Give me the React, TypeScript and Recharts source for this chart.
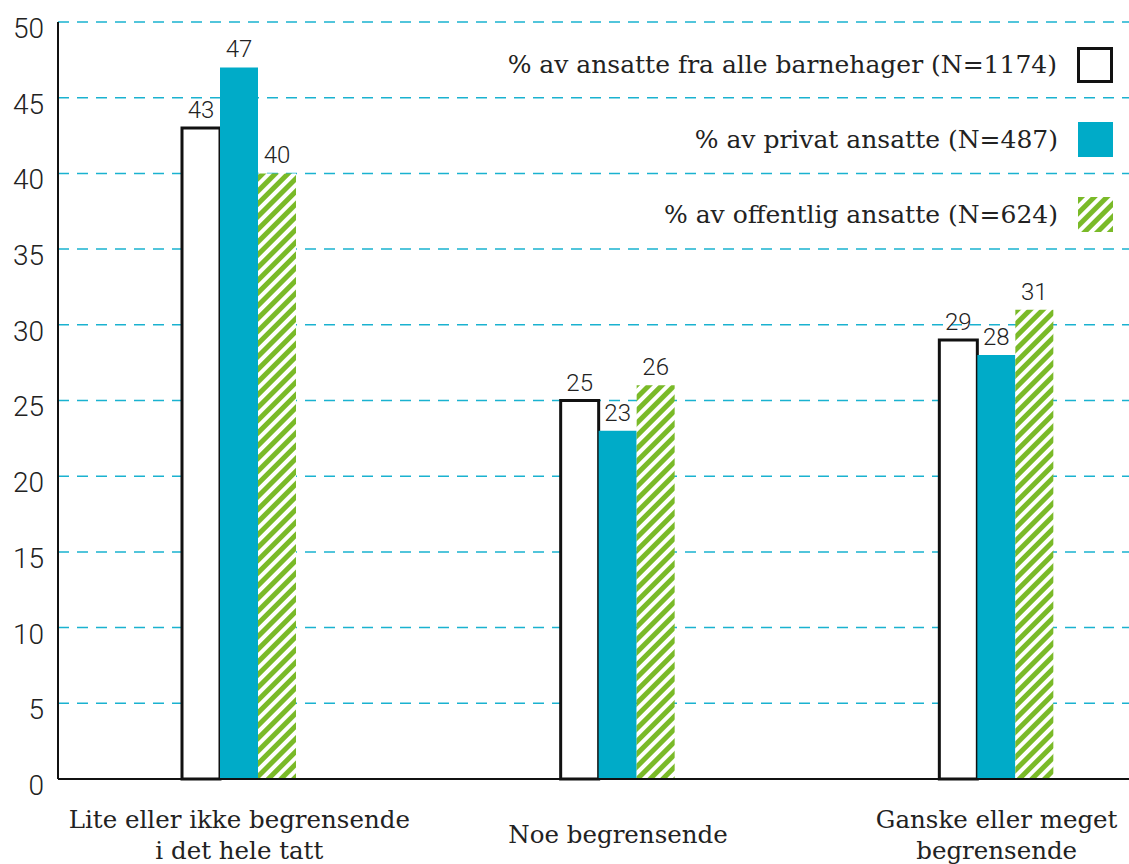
import { BarChart, Bar, XAxis, YAxis, CartesianGrid, LabelList } from 'recharts';

const categories = [
  'Lite eller ikke begrensende i det hele tatt',
  'Noe begrensende',
  'Ganske eller meget begrensende',
];
const categoryLines = [
  ['Lite eller ikke begrensende', 'i det hele tatt'],
  ['Noe begrensende'],
  ['Ganske eller meget', 'begrensende'],
];
const alleValues = [43, 25, 29];
const privatValues = [47, 23, 28];
const offentligValues = [40, 26, 31];
const seriesNames = [
  '% av ansatte fra alle barnehager (N=1174)',
  '% av privat ansatte (N=487)',
  '% av offentlig ansatte (N=624)',
];
const yTicks = [0, 5, 10, 15, 20, 25, 30, 35, 40, 45, 50];

const BLUE = '#00abc8';
const GREEN = '#7aba28';
const GRID = '#1ab2d0';
const SANS = 'Roboto, "DejaVu Sans", sans-serif';
const SERIF = '"DejaVu Serif", "Liberation Serif", serif';

const data = categories.map((category, i) => ({
  category,
  alle: alleValues[i],
  privat: privatValues[i],
  offentlig: offentligValues[i],
}));

function CategoryTick(props: any) {
  const { x, y, payload } = props;
  const idx = categories.indexOf(payload.value);
  const lines = categoryLines[idx] ?? [payload.value];
  const lineHeight = 31;
  const centerY = y + 48;
  return (
    <text x={x} textAnchor='middle' fontFamily={SERIF} fontSize={24.5} fill='#222'>
      {lines.map((line, i) => (
        <tspan key={i} x={x} y={centerY + (i - (lines.length - 1) / 2) * lineHeight + 8}>
          {line}
        </tspan>
      ))}
    </text>
  );
}

function Stripes({ id }: { id: string }) {
  return (
    <pattern id={id} patternUnits='userSpaceOnUse' width={9} height={9} patternTransform='rotate(45)'>
      <rect x={0} y={0} width={9} height={9} fill='#fff' />
      <rect x={0} y={0} width={5} height={9} fill={GREEN} />
    </pattern>
  );
}

function LegendSwatch({ index }: { index: number }) {
  if (index === 0) {
    return <div style={{ width: 30, height: 30, border: '3px solid #111', background: '#fff' }} />;
  }
  if (index === 1) {
    return <div style={{ width: 35, height: 35, background: BLUE }} />;
  }
  return (
    <svg width={35} height={35}>
      <defs>
        <Stripes id='legendStripes' />
      </defs>
      <rect width={35} height={35} fill='url(#legendStripes)' />
    </svg>
  );
}

const labelStyle = { fontFamily: SANS, fontWeight: 300, fontSize: 24, fill: '#222' };

export default function App() {
  return (
    <div style={{ position: 'relative', width: 1129, height: 864, overflow: 'hidden', background: '#fff' }}>
      <style>{'body{margin:0}'}</style>
      <BarChart
        width={1186}
        height={864}
        data={data}
        margin={{ top: 22, right: 0, bottom: 0, left: 0 }}
        barGap={0}
        barSize={38}
      >
        <defs>
          <Stripes id='barStripes' />
        </defs>
        <CartesianGrid vertical={false} stroke={GRID} strokeWidth={1.5} strokeDasharray='11 8' />
        <XAxis
          dataKey='category'
          height={85}
          tickLine={false}
          axisLine={{ stroke: '#111', strokeWidth: 2 }}
          tick={<CategoryTick />}
          interval={0}
          padding={{ left: -8, right: 0 }}
        />
        <YAxis
          width={58}
          domain={[0, 50]}
          ticks={yTicks}
          tickLine={false}
          tickMargin={8}
          axisLine={{ stroke: '#111', strokeWidth: 2 }}
          tick={{ fontFamily: SANS, fontWeight: 300, fontSize: 28, fill: '#222', dy: 6 }}
        />
        <Bar dataKey='alle' fill='#fff' stroke='#111' strokeWidth={3} isAnimationActive={false}>
          <LabelList dataKey='alle' position='top' offset={10} style={labelStyle} />
        </Bar>
        <Bar dataKey='privat' fill={BLUE} isAnimationActive={false}>
          <LabelList dataKey='privat' position='top' offset={10} style={labelStyle} />
        </Bar>
        <Bar dataKey='offentlig' fill='url(#barStripes)' isAnimationActive={false}>
          <LabelList dataKey='offentlig' position='top' offset={10} style={labelStyle} />
        </Bar>
      </BarChart>
      <div style={{ position: 'absolute', top: 0, right: 16 }}>
        {seriesNames.map((name, i) => (
          <div
            key={name}
            style={{
              position: 'absolute',
              right: 0,
              top: 47 + i * 75,
              height: 35,
              display: 'flex',
              alignItems: 'center',
              whiteSpace: 'nowrap',
            }}
          >
            <span style={{ fontFamily: SERIF, fontSize: 25, color: '#222', marginRight: 20 }}>{name}</span>
            <LegendSwatch index={i} />
          </div>
        ))}
      </div>
    </div>
  );
}
